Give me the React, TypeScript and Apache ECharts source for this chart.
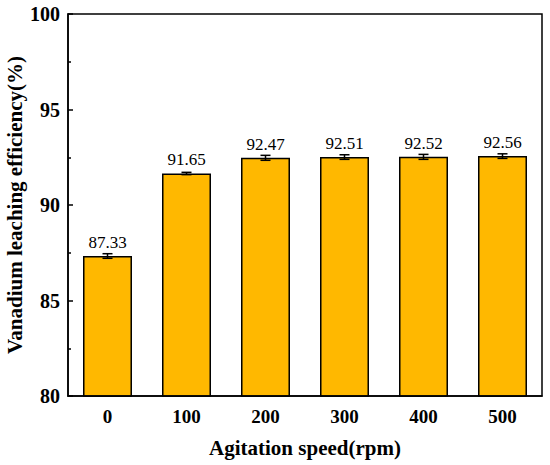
import React, { useEffect, useRef } from "react";
import * as echarts from "echarts";

const categories = ["0", "100", "200", "300", "400", "500"];
const values = [87.33, 91.65, 92.47, 92.51, 92.52, 92.56];
const errors = [0.12, 0.06, 0.13, 0.12, 0.13, 0.12];
const yTicks = { min: 80, max: 100, interval: 5 };

const FONT = "Liberation Serif";

export default function App() {
  const ref = useRef<HTMLDivElement>(null);
  useEffect(() => {
    if (!ref.current) return;
    const chart = echarts.init(ref.current, null, { renderer: "svg" });
    const errData = values.map((v, i) => [i, v - errors[i], v + errors[i]]);
    chart.setOption({
      animation: false,
      backgroundColor: "#fff",
      textStyle: { fontFamily: FONT },
      grid: {
        left: 68,
        right: 8,
        top: 14,
        bottom: 69,
        containLabel: false,
        outerBoundsMode: "none",
        show: true,
        borderColor: "#000",
        borderWidth: 1.5,
      },
      xAxis: [
        {
          type: "category",
          data: categories,
          z: 5,
          name: "Agitation speed(rpm)",
          nameLocation: "middle",
          nameGap: 41,
          nameMoveOverlap: false,
          nameTextStyle: { fontFamily: FONT, fontWeight: "bold", fontSize: 21, color: "#000" },
          axisLine: { lineStyle: { color: "#000", width: 1.5 } },
          axisTick: { inside: true, alignWithLabel: true, length: 5, lineStyle: { color: "#000", width: 1.5 } },
          axisLabel: { fontFamily: FONT, fontWeight: "bold", fontSize: 19, color: "#000", margin: 11 },
          splitLine: { show: false },
        },
        {
          type: "category",
          data: categories,
          position: "bottom",
          z: 5,
          axisLine: { show: false },
          axisTick: { inside: true, alignWithLabel: false, length: 3, lineStyle: { color: "#000", width: 1.5 } },
          axisLabel: { show: false },
          splitLine: { show: false },
        },
      ],
      yAxis: {
        type: "value",
        min: yTicks.min,
        max: yTicks.max,
        interval: yTicks.interval,
        z: 5,
        name: "Vanadium leaching efficiency(%)",
        nameLocation: "middle",
        nameGap: 43,
        nameMoveOverlap: false,
        nameTextStyle: { fontFamily: FONT, fontWeight: "bold", fontSize: 21, color: "#000" },
        axisLine: { show: true, lineStyle: { color: "#000", width: 1.5 } },
        axisTick: { show: true, inside: true, length: 5, lineStyle: { color: "#000", width: 1.5 } },
        minorTick: { show: true, splitNumber: 2, length: 3, lineStyle: { color: "#000", width: 1.5 } },
        axisLabel: { fontFamily: FONT, fontWeight: "bold", fontSize: 20, color: "#000", margin: 8 },
        splitLine: { show: false },
      },
      series: [
        {
          type: "bar",
          data: values,
          barWidth: "62%",
          itemStyle: { color: "#FFB800", borderColor: "#000", borderWidth: 1.5 },
          label: {
            show: true,
            position: "top",
            distance: 5,
            formatter: (p: any) => p.value.toFixed(2),
            fontFamily: FONT,
            fontSize: 17,
            color: "#000",
          },
          z: 2,
        },
        {
          type: "custom",
          data: errData,
          z: 3,
          renderItem: (params: any, api: any) => {
            const x = api.coord([api.value(0), api.value(1)])[0];
            const lo = api.coord([api.value(0), api.value(1)])[1];
            const hi = api.coord([api.value(0), api.value(2)])[1];
            const w = 5;
            const st = { stroke: "#000", lineWidth: 1.5 };
            return {
              type: "group",
              children: [
                { type: "line", shape: { x1: x, y1: lo, x2: x, y2: hi }, style: st },
                { type: "line", shape: { x1: x - w, y1: lo, x2: x + w, y2: lo }, style: st },
                { type: "line", shape: { x1: x - w, y1: hi, x2: x + w, y2: hi }, style: st },
              ],
            };
          },
        },
      ],
    });
    return () => chart.dispose();
  }, []);
  return <div ref={ref} style={{ position: "fixed", left: 0, top: 0, width: 550, height: 465 }} />;
}
